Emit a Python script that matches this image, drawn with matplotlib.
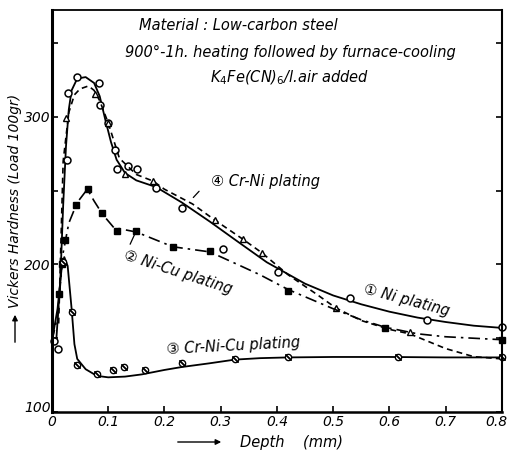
import matplotlib
matplotlib.use("Agg")
import matplotlib.pyplot as plt
from matplotlib.transforms import ScaledTranslation

plt.rcParams['font.family'] = ['DejaVu Sans', 'Noto Sans CJK JP']

# (1) Ni plating - solid line, open circles
ni_line_x = [0.0, 0.008, 0.015, 0.02, 0.025, 0.03, 0.035, 0.045, 0.06, 0.075, 0.085, 0.095,
             0.105, 0.115, 0.13, 0.15, 0.185, 0.231, 0.281, 0.334, 0.382, 0.45, 0.5, 0.55,
             0.6, 0.65, 0.7, 0.75, 0.8]
ni_line_y = [148, 150, 190, 240, 280, 305, 318, 326, 327, 323, 314, 298,
             283, 271, 262, 257, 252.5, 242, 229, 214.5, 201.5, 187, 179, 173,
             168, 164, 161, 158.5, 157]
ni_pts_x = [0.003, 0.011, 0.026, 0.029, 0.044, 0.084, 0.085, 0.1, 0.112, 0.115, 0.135, 0.151,
            0.185, 0.231, 0.304, 0.402, 0.53, 0.666, 0.8]
ni_pts_y = [148, 143, 271, 316, 327, 323, 308, 296, 277.6, 265, 266.8, 265,
            252, 238, 210.5, 195, 177, 162.4, 157.6]

# (2) Ni-Cu plating - dash-dot line, filled squares
nicu_line_x = [0.0, 0.01, 0.02, 0.03, 0.045, 0.063, 0.075, 0.09, 0.11, 0.15, 0.215, 0.281,
               0.33, 0.37, 0.42, 0.5, 0.55, 0.592, 0.65, 0.7, 0.75, 0.8]
nicu_line_y = [148, 165, 208, 228, 242, 251, 243, 234, 225, 222, 212, 208.5,
               200, 193, 183, 170, 162.5, 157.5, 153, 151, 150, 149]
nicu_pts_x = [0.012, 0.018, 0.023, 0.043, 0.064, 0.089, 0.115, 0.149, 0.215, 0.281, 0.42, 0.592, 0.8]
nicu_pts_y = [180, 200, 216.6, 240, 251, 235, 223, 223, 212, 209, 182, 157, 149]

# (3) Cr-Ni-Cu plating - solid line, slashed circles
crnicu_line_x = [0.0, 0.01, 0.018, 0.022, 0.028, 0.035, 0.04, 0.045, 0.06, 0.08, 0.1, 0.13,
                 0.16, 0.2, 0.231, 0.28, 0.325, 0.37, 0.42, 0.5, 0.6, 0.7, 0.8]
crnicu_line_y = [148, 170, 200, 205, 199, 170, 146, 136, 129, 124.5, 123.5, 124,
                 125.5, 128.5, 130.5, 133, 135.5, 136.5, 137, 137.3, 137.3, 137, 137]
crnicu_pts_x = [0.02, 0.035, 0.045, 0.08, 0.108, 0.128, 0.165, 0.231, 0.325, 0.42, 0.615, 0.8]
crnicu_pts_y = [202, 168, 132, 125.8, 128.5, 130.5, 128.5, 133, 136, 137, 137, 137]

# (4) Cr-Ni plating - dashed line, open triangles
crni_line_x = [0.012, 0.02, 0.03, 0.04, 0.05, 0.065, 0.075, 0.085, 0.1, 0.12, 0.15, 0.18,
               0.2, 0.25, 0.29, 0.34, 0.373, 0.42, 0.47, 0.505, 0.55, 0.6, 0.636, 0.7, 0.75, 0.8]
crni_line_y = [160, 270, 303, 315, 319, 321, 318, 311, 296, 272, 261, 256.5,
               251, 241, 230, 217, 208, 193, 180, 170.5, 162, 156, 153, 143, 137.5, 136]
crni_pts_x = [0.025, 0.076, 0.1, 0.13, 0.18, 0.29, 0.34, 0.373, 0.505, 0.636]
crni_pts_y = [299, 315.6, 296, 261, 256.6, 230, 217, 208, 170.5, 154]

x_ticks = [0, 0.1, 0.2, 0.3, 0.4, 0.5, 0.6, 0.7, 0.8]
x_labels = ['0', '0.1', '0.2', '0.3', '0.4', '0.5', '0.6', '0.7', '0.8']
y_ticks = [100, 150, 200, 250, 300, 350]
y_labels = ['100', '', '200', '', '300', '']

fig = plt.figure(figsize=(5.09, 4.53), dpi=100)
ax = fig.add_axes([0.102, 0.0905, 0.884, 0.8875])

ax.plot(ni_line_x, ni_line_y, color='black', lw=1.3)
ax.plot(ni_pts_x, ni_pts_y, 'o', mfc='white', mec='black', ms=5, mew=1.1, clip_on=False)

ax.plot(crni_line_x, crni_line_y, color='black', lw=1.2, dashes=(3.5, 2.5))
ax.plot(crni_pts_x, crni_pts_y, '^', mfc='white', mec='black', ms=4.5, mew=1.0)

ax.plot(nicu_line_x, nicu_line_y, color='black', lw=1.2, dashes=(7, 3, 1.5, 3))
ax.plot(nicu_pts_x, nicu_pts_y, 's', color='black', ms=4.5, clip_on=False)

ax.plot(crnicu_line_x, crnicu_line_y, color='black', lw=1.3)
ax.plot(crnicu_pts_x, crnicu_pts_y, 'o', mfc='white', mec='black', ms=4.5, mew=1.0, clip_on=False)
ax.plot(crnicu_pts_x, crnicu_pts_y, marker=(2, 2, 45), ls='none', color='black', ms=6, mew=0.9,
        clip_on=False)

ax.set_xlim(0, 0.8)
ax.set_ylim(100, 372.5)
ax.set_xticks(x_ticks)
ax.set_xticklabels(x_labels, fontsize=10, style='italic')
ax.set_yticks(y_ticks)
ax.set_yticklabels(y_labels, fontsize=10, style='italic')
ax.tick_params(direction='in', length=4, width=1.2, pad=2, right=True)
ax.tick_params(axis='y', pad=1)
for side, w in [('left', 2.2), ('bottom', 1.8), ('top', 1.3), ('right', 1.5)]:
    ax.spines[side].set_linewidth(w)

# keep "0.8" inside the picture and lift "100" off the x labels
last = ax.get_xticklabels()[-1]
last.set_ha('right')
last.set_transform(last.get_transform() + ScaledTranslation(6 / 100, 0, fig.dpi_scale_trans))
first_y = ax.get_yticklabels()[0]
first_y.set_transform(first_y.get_transform() + ScaledTranslation(0, 6 / 100, fig.dpi_scale_trans))

# header notes
tfont = dict(fontsize=10.5, style='italic', ha='center', va='center')
fig.text(238 / 509, 1 - 25 / 453, 'Material : Low-carbon steel', **tfont)
fig.text(290 / 509, 1 - 52 / 453, '900°-1h. heating followed by furnace-cooling', **tfont)
fig.text(290 / 509, 1 - 78 / 453, 'K$_4$Fe(CN)$_6$/l.air added', **tfont)

# curve labels
lfont = dict(fontsize=10.5, style='italic', ha='center', va='center')
ax.text(0.38, 256, '④ Cr-Ni plating', **lfont)
ax.annotate('', xy=(0.248, 244), xytext=(0.265, 251),
            arrowprops=dict(arrowstyle='-', color='black', lw=0.9))
ax.text(0.224, 195, '② Ni-Cu plating', rotation=-18, **lfont)
ax.annotate('', xy=(0.149, 222), xytext=(0.137, 212),
            arrowprops=dict(arrowstyle='-', color='black', lw=0.9))
ax.text(0.63, 176, '① Ni plating', rotation=-15, **lfont)
ax.text(0.322, 145, '③ Cr-Ni-Cu plating', rotation=3, **lfont)

# axis titles with arrows
fig.text(15 / 509, 1 - 201 / 453, 'Vickers Hardness (Load 100gr)', rotation=90,
         fontsize=10, style='italic', ha='center', va='center')
fig.patches.append(matplotlib.patches.FancyArrowPatch(
    (15 / 509, 1 - 345 / 453), (15 / 509, 1 - 312 / 453), transform=fig.transFigure,
    arrowstyle='-|>', mutation_scale=8, color='black', lw=1.0))
fig.text(240 / 509, 1 - 442 / 453, 'Depth    (mm)', fontsize=10.5, style='italic',
         ha='left', va='center')
fig.patches.append(matplotlib.patches.FancyArrowPatch(
    (175 / 509, 1 - 442 / 453), (224 / 509, 1 - 442 / 453), transform=fig.transFigure,
    arrowstyle='-|>', mutation_scale=8, color='black', lw=1.0))

fig.savefig('out.png', dpi=100)
